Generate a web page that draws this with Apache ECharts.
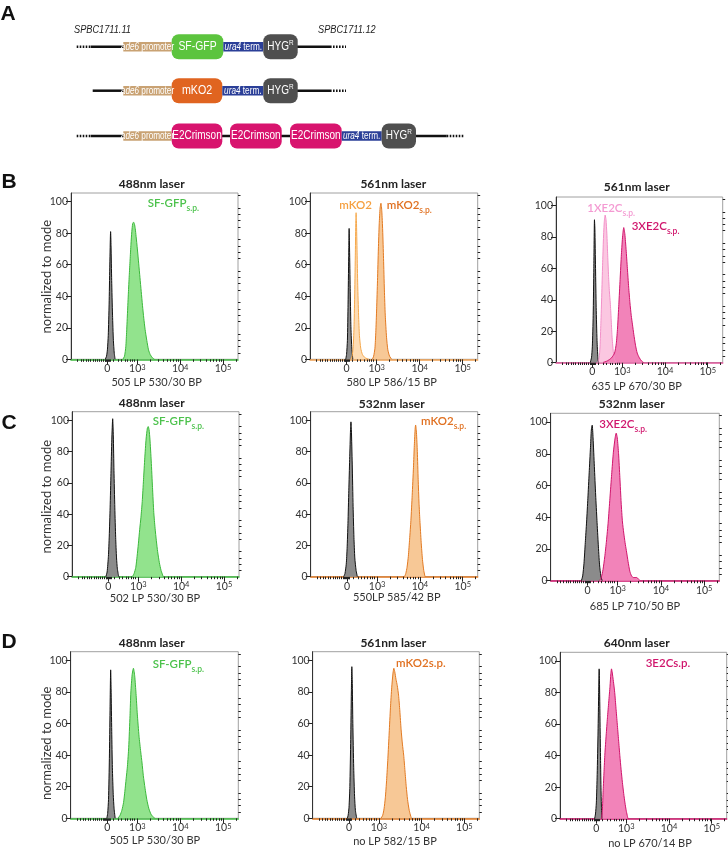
<!DOCTYPE html>
<html><head><meta charset="utf-8">
<script src="https://cdn.jsdelivr.net/npm/echarts@6/dist/echarts.min.js"></script>
<style>html,body{margin:0;padding:0;background:#fff}#c{width:728px;height:848px}</style>
</head><body><div id="c"></div>
<script>
// ---- axis ticks (x in display-decade units of the biexponential FACS axis) ----
const xTickValues = [2.3, 3, 4, 5];
const xTickLabels = ['0', '10{s|3}', '10{s|4}', '10{s|5}'];
const xMinorTicks = [1.60,1.68,1.74,1.80,1.85,1.91,1.97,2.02,2.06,2.11,2.16,2.20,2.24,2.26,2.28,2.32,2.34,2.36,
  2.44,2.55,2.63,2.71,2.77,2.83,2.88,2.93,
  3.301,3.477,3.602,3.699,3.778,3.845,3.903,3.954,
  4.301,4.477,4.602,4.699,4.778,4.845,4.903,4.954, 5.301];
const yTicks = [0, 20, 40, 60, 80, 100];
const yMinorTicks = [4,8,12,16,24,28,32,36,44,48,52,56,64,68,72,76,84,88,92,96,104];

// ---- histogram series: [display decade, % of mode] ----
const b1Control = [[2.25,0],[2.28,2],[2.30,6],[2.32,15],[2.34,35],[2.355,58],[2.37,78],[2.375,81],[2.385,72],[2.40,50],[2.42,28],[2.44,12],[2.46,4],[2.48,0]];
const b1GFP = [[2.66,0],[2.70,2],[2.73,8],[2.75,18],[2.77,30],[2.79,42],[2.81,53],[2.83,63],[2.85,73],[2.87,81],[2.89,86],[2.91,87],[2.93,86],[2.95,83],[2.97,78],[3.00,70],[3.03,61],[3.06,52],[3.09,43],[3.12,34],[3.15,26],[3.18,19],[3.22,12],[3.26,6],[3.30,3],[3.35,1],[3.40,0]];
const b2Control = [[2.28,0],[2.30,3],[2.32,12],[2.335,35],[2.35,65],[2.36,83],[2.37,70],[2.385,45],[2.40,22],[2.42,8],[2.445,0]];
const b2mKO2 = [[2.40,0],[2.43,2],[2.455,8],[2.475,22],[2.49,42],[2.505,68],[2.515,88],[2.522,93],[2.53,88],[2.545,68],[2.56,47],[2.58,28],[2.60,15],[2.63,7],[2.67,3],[2.73,1],[2.82,0]];
const b2mKO2sp = [[2.90,0],[2.93,2],[2.96,7],[2.98,17],[3.00,32],[3.02,50],[3.04,70],[3.06,86],[3.08,96],[3.10,99],[3.12,94],[3.14,82],[3.16,64],[3.18,44],[3.20,28],[3.23,14],[3.26,6],[3.30,2],[3.35,0]];
const b3Control = [[2.25,0],[2.28,3],[2.30,10],[2.32,30],[2.335,60],[2.35,91],[2.36,85],[2.375,60],[2.39,35],[2.41,14],[2.43,3],[2.445,0]];
const b3E2C1x = [[2.43,0],[2.46,3],[2.48,10],[2.50,25],[2.52,43],[2.54,62],[2.56,79],[2.58,90],[2.60,94],[2.62,91],[2.64,82],[2.66,68],[2.68,55],[2.70,45],[2.72,38],[2.74,28],[2.76,17],[2.79,7],[2.82,2],[2.86,0]];
const b3E2C3x = [[2.55,0],[2.65,1],[2.75,3],[2.82,6],[2.86,12],[2.89,22],[2.92,37],[2.95,53],[2.98,69],[3.01,81],[3.035,86],[3.06,82],[3.09,72],[3.12,60],[3.15,48],[3.18,38],[3.21,30],[3.24,24],[3.27,18],[3.31,11],[3.35,6],[3.40,3],[3.45,1],[3.50,0]];
const c1Control = [[2.24,0],[2.27,3],[2.30,13],[2.32,26],[2.34,44],[2.36,66],[2.38,88],[2.40,101],[2.415,90],[2.43,68],[2.45,44],[2.47,25],[2.49,12],[2.51,5],[2.54,0]];
const c1GFP = [[2.86,0],[2.90,2],[2.94,6],[2.97,13],[3.00,21],[3.03,30],[3.06,38],[3.09,48],[3.12,62],[3.15,76],[3.18,88],[3.21,95],[3.23,96],[3.25,94],[3.27,88],[3.30,74],[3.33,57],[3.36,41],[3.39,31],[3.42,23],[3.45,16],[3.49,9],[3.53,4],[3.58,0]];
const c2Control = [[2.22,0],[2.25,2],[2.28,8],[2.30,18],[2.32,34],[2.34,55],[2.36,75],[2.38,94],[2.39,99],[2.40,94],[2.42,72],[2.44,45],[2.46,25],[2.48,12],[2.51,4],[2.54,0]];
const c2mKO2sp = [[3.64,0],[3.67,2],[3.70,6],[3.73,13],[3.76,24],[3.79,36],[3.82,52],[3.85,70],[3.87,84],[3.89,95],[3.90,97],[3.92,92],[3.94,80],[3.96,62],[3.98,47],[4.00,36],[4.03,22],[4.06,11],[4.09,4],[4.12,0]];
const c3Control = [[2.16,0],[2.19,3],[2.22,11],[2.25,24],[2.28,37],[2.31,52],[2.34,68],[2.37,84],[2.39,95],[2.41,98],[2.43,90],[2.46,72],[2.49,54],[2.52,38],[2.55,23],[2.58,10],[2.61,3],[2.64,0]];
const c3E2C3x = [[2.58,0],[2.62,2],[2.66,7],[2.70,15],[2.74,25],[2.78,37],[2.82,52],[2.86,67],[2.90,81],[2.94,90],[2.965,93],[2.99,90],[3.02,80],[3.05,65],[3.08,49],[3.11,37],[3.14,30],[3.17,24],[3.20,19],[3.24,12],[3.28,6],[3.32,3],[3.36,2],[3.40,2],[3.44,2],[3.48,1],[3.52,0]];
const d1Control = [[2.29,0],[2.31,3],[2.33,12],[2.35,38],[2.365,68],[2.38,94],[2.39,82],[2.405,55],[2.42,32],[2.44,15],[2.46,6],[2.485,0]];
const d1GFP = [[2.55,0],[2.60,2],[2.64,5],[2.68,10],[2.71,17],[2.74,25],[2.77,33],[2.80,45],[2.83,65],[2.85,80],[2.88,91],[2.91,95],[2.94,90],[2.97,79],[3.00,66],[3.04,52],[3.08,42],[3.11,35],[3.14,27],[3.18,19],[3.22,12],[3.27,6],[3.33,2],[3.41,0]];
const d2Control = [[2.26,0],[2.28,2],[2.30,7],[2.32,20],[2.34,50],[2.355,80],[2.366,96],[2.375,88],[2.39,60],[2.41,32],[2.43,14],[2.45,5],[2.48,0]];
const d2mKO2sp = [[3.05,0],[3.09,2],[3.12,6],[3.15,13],[3.18,24],[3.21,38],[3.24,54],[3.27,70],[3.30,83],[3.33,92],[3.35,95],[3.37,93],[3.40,88],[3.43,84],[3.46,78],[3.49,68],[3.52,56],[3.55,47],[3.58,40],[3.61,30],[3.64,20],[3.67,12],[3.71,5],[3.76,0]];
const d3Control = [[2.26,0],[2.28,3],[2.30,10],[2.32,28],[2.34,55],[2.355,80],[2.366,95],[2.375,85],[2.39,55],[2.40,35],[2.41,18],[2.42,7],[2.43,0]];
const d3E2C = [[2.42,0],[2.44,5],[2.46,18],[2.48,30],[2.50,41],[2.53,53],[2.56,64],[2.59,74],[2.62,84],[2.64,92],[2.655,95],[2.67,93],[2.70,87],[2.73,80],[2.76,70],[2.79,60],[2.82,50],[2.85,40],[2.88,31],[2.91,23],[2.94,16],[2.97,10],[3.00,5],[3.04,0]];

// ---- text ----
const laserTitles = ['488nm laser','561nm laser','561nm laser','488nm laser','532nm laser','532nm laser','488nm laser','561nm laser','640nm laser'];
const filterLabels = ['505 LP 530/30 BP','580 LP 586/15 BP','635 LP 670/30 BP','502 LP 530/30 BP','550LP 585/42 BP','685 LP 710/50 BP','505 LP 530/30 BP','no LP 582/15 BP','no LP 670/14 BP'];
const yAxisTitle = 'normalized to mode';

// ---- styles / layout ----
const FONT = 'Lato, "Noto Sans", sans-serif';
const STY = {
  ctrl:{fill:'#8b8b8b', line:'#111111'},
  gfp:{fill:'#92e38d', line:'#3cb83c'},
  mko:{fill:'#f7c896', line:'#e27a22'},
  mkoL:{fill:'#fddcb4', line:'#f5a84c'},
  e3:{fill:'#f283b9', line:'#d0156c'},
  e1:{fill:'#fbc7e1', line:'#f290c8'}
};
const panels = [
  {g:[71,193,167,166.3], base:'#3cb83c', s:[[b1Control,'ctrl'],[b1GFP,'gfp']], t:[151.7,184.3], xl:[156.7,382.7]},
  {g:[310,193,167.7,166.3], base:'#f0a050', s:[[b2Control,'ctrl'],[b2mKO2,'mkoL'],[b2mKO2sp,'mko']], t:[393.3,184.3], xl:[391.7,382.7]},
  {g:[556,197,166.7,165.5], base:'#e0559a', s:[[b3Control,'ctrl'],[b3E2C1x,'e1'],[b3E2C3x,'e3']], t:[636.7,187.3], xl:[636.7,386.7]},
  {g:[72,411.7,167,165], base:'#3cb83c', s:[[c1Control,'ctrl'],[c1GFP,'gfp']], t:[151.7,403.3], xl:[155,598.5]},
  {g:[310.7,411.7,167,165], base:'#e27a22', s:[[c2Control,'ctrl'],[c2mKO2sp,'mko']], t:[391.7,404.3], xl:[396.7,597]},
  {g:[550.7,413.3,168.6,167.4], base:'#d0156c', s:[[c3Control,'ctrl'],[c3E2C3x,'e3']], t:[631.7,404.3], xl:[635,606.7]},
  {g:[70.7,651.7,167.6,166.6], base:'#3cb83c', s:[[d1Control,'ctrl'],[d1GFP,'gfp']], t:[151.7,643.3], xl:[155,840]},
  {g:[312.7,651.7,166.6,166.6], base:'#e27a22', s:[[d2Control,'ctrl'],[d2mKO2sp,'mko']], t:[393.3,643.3], xl:[395,841.7]},
  {g:[560,652.3,166.7,166.4], base:'#d0156c', s:[[d3Control,'ctrl'],[d3E2C,'e3']], t:[636.7,643.3], xl:[650,843.3]}
];

const grid=[], xAxis=[], yAxis=[], series=[], graphic=[];
panels.forEach((p,i)=>{
  grid.push({left:p.g[0], top:p.g[1], width:p.g[2], height:p.g[3], show:true, borderColor:'#a0a0a0', borderWidth:1, backgroundColor:'rgba(0,0,0,0)'});
  xAxis.push({type:'value', gridIndex:i, min:1.45, max:5.35, position:'bottom',
    axisLine:{show:true, onZero:false, lineStyle:{color:p.base, width:1.5}},
    axisTick:{show:true, customValues:xTickValues, length:5, lineStyle:{color:'#222'}},
    axisLabel:{show:true, customValues:xTickValues, margin:4, fontSize:10.5, color:'#333', fontFamily:FONT,
      formatter:(v)=>{const k=xTickValues.indexOf(v); return k<0?'':xTickLabels[k];},
      rich:{s:{fontSize:7.5, verticalAlign:'top', lineHeight:8, color:'#333', fontFamily:FONT}}},
    splitLine:{show:false}});
  xAxis.push({type:'value', gridIndex:i, min:1.45, max:5.35, position:'bottom',
    axisLine:{show:false}, axisTick:{show:true, customValues:xMinorTicks, length:2.5, lineStyle:{color:'#222'}},
    axisLabel:{show:false}, splitLine:{show:false}});
  yAxis.push({type:'value', gridIndex:i, min:0, max:105.5,
    axisLine:{show:true, onZero:false, lineStyle:{color:'#333', width:1}},
    axisTick:{show:true, customValues:yTicks, length:5, lineStyle:{color:'#222'}},
    axisLabel:{show:true, customValues:yTicks, margin:3, fontSize:10.5, color:'#333', fontFamily:FONT},
    splitLine:{show:false}});
  yAxis.push({type:'value', gridIndex:i, min:0, max:105.5,
    axisLine:{show:false}, axisTick:{show:true, customValues:yMinorTicks, length:2.5, lineStyle:{color:'#222'}},
    axisLabel:{show:false}, splitLine:{show:false}});
  p.s.forEach(([data,key])=>{
    series.push({type:'line', xAxisIndex:2*i, yAxisIndex:2*i, data:data, symbol:'none', smooth:0.2,
      lineStyle:{color:STY[key].line, width:1}, areaStyle:{color:STY[key].fill, opacity:1}, silent:true, animation:false});
  });
  graphic.push({type:'text', x:p.t[0], y:p.t[1], z:10, style:{text:laserTitles[i], fill:'#222', fontSize:12, fontWeight:'bold', fontFamily:FONT, align:'center', verticalAlign:'middle'}});
  graphic.push({type:'text', x:p.xl[0], y:p.xl[1], z:10, style:{text:filterLabels[i], fill:'#333', fontSize:11, fontFamily:FONT, align:'center', verticalAlign:'middle'}});
});

// y axis titles (first column)
[[46.7,276.7],[47,496.7],[47,743.3]].forEach(([x,y])=>{
  graphic.push({type:'text', x:x, y:y, rotation:Math.PI/2, z:10, style:{text:yAxisTitle, fill:'#333', fontSize:13, fontFamily:FONT, align:'center', verticalAlign:'middle'}});
});
// panel letters
[['A',8,14],['B',9,182],['C',9,423],['D',9,642]].forEach(([t,x,y])=>{
  graphic.push({type:'text', x:x, y:y, z:10, style:{text:t, fill:'#111', fontSize:21, fontWeight:'bold', fontFamily:'"Liberation Sans", Arial, sans-serif', align:'center', verticalAlign:'middle'}});
});
// in-plot labels with subscripts
function lab(x,y,main,sub,color){
  graphic.push({type:'text', x:x, y:y, z:20, style:{
    text:'{m|'+main+'}'+(sub?'{s|'+sub+'}':''), fill:color, align:'left', verticalAlign:'middle',
    rich:{m:{fontSize:11.5, fontFamily:FONT, fontWeight:600, fill:color, lineHeight:14, verticalAlign:'middle'},
          s:{fontSize:8.5, fontFamily:FONT, fontWeight:600, fill:color, lineHeight:20, verticalAlign:'bottom'}}}});
}
lab(147.7,203,'SF-GFP','s.p.','#4cc24c');
lab(339.3,205,'mKO2','','#f5a040');
lab(386.7,205,'mKO2','s.p.','#e07020');
lab(587.3,208,'1XE2C','s.p.','#f49ad2');
lab(631.7,226,'3XE2C','s.p.','#d0156c');
lab(152.7,421,'SF-GFP','s.p.','#4cc24c');
lab(421,421,'mKO2','s.p.','#e07020');
lab(599.3,424,'3XE2C','s.p.','#d0156c');
lab(152.7,664,'SF-GFP','s.p.','#4cc24c');
lab(396,663.3,'mKO2s.p.','','#e07020');
lab(645.7,663.3,'3E2Cs.p.','','#d0156c');

// ---- panel A: construct diagram ----
const DFONT = '"Liberation Sans", Arial, sans-serif';
function hline(x1,x2,y,dotted){
  graphic.push({type:'line', shape:{x1:x1,y1:y,x2:x2,y2:y}, z:5, style:{stroke:'#111', lineWidth:2.5, lineDash:dotted?[1.6,1.4]:null}});
}
function smallBox(x1,x2,y,fill,rich){
  graphic.push({type:'rect', shape:{x:x1,y:y-4.8,width:x2-x1,height:9.6}, z:6, style:{fill:fill}});
  graphic.push({type:'text', x:(x1+x2)/2, y:y+0.3, scaleX:0.82, z:7, style:{text:rich, fill:'#fff', align:'center', verticalAlign:'middle',
    rich:{i:{fontSize:10, fontStyle:'italic', fontFamily:DFONT, fill:'#fff'}, n:{fontSize:10, fontFamily:DFONT, fill:'#fff'}}}});
}
function bigBox(x1,x2,y,fill,txt,size,sx){
  graphic.push({type:'rect', shape:{x:x1,y:y-12.5,width:x2-x1,height:25,r:7}, z:6, style:{fill:fill}});
  graphic.push({type:'text', x:(x1+x2)/2, y:y, scaleX:sx, z:7, style:{text:txt, fill:'#fff', align:'center', verticalAlign:'middle',
    rich:{m:{fontSize:size, fontFamily:DFONT, fill:'#fff', lineHeight:16, verticalAlign:'middle'}, r:{fontSize:8, fontFamily:DFONT, fill:'#fff', lineHeight:16, verticalAlign:'top'}}}});
}
const PROM='#c9a273', URA='#2b3f98', HYG='#4f4f4f', GFP='#5cc43e', MKO='#e06420', E2C='#d8146e';
graphic.push({type:'text', x:74, y:29.3, scaleX:0.8, z:7, style:{text:'SPBC1711.11', fill:'#222', fontSize:11.5, fontStyle:'italic', fontFamily:DFONT, align:'left', verticalAlign:'middle'}});
graphic.push({type:'text', x:318, y:29.3, scaleX:0.8, z:7, style:{text:'SPBC1711.12', fill:'#222', fontSize:11.5, fontStyle:'italic', fontFamily:DFONT, align:'left', verticalAlign:'middle'}});
// row 1
let y=46.7;
hline(76.7,90.7,y,true); hline(90.7,124,y); hline(297,330,y); hline(330,346,y,true);
smallBox(123.3,171.7,y,PROM,'{i|ade6}{n| promoter}');
bigBox(171.7,223.3,y,GFP,'{m|SF-GFP}',13,0.8);
smallBox(223.3,263.3,y,URA,'{i|ura4}{n| term.}');
bigBox(263.3,297.7,y,HYG,'{m|HYG}{r|R}',12.5,0.8);
// row 2
y=90.7;
hline(92.7,124,y); hline(297,330,y); hline(330,346,y,true);
smallBox(123.3,171.7,y,PROM,'{i|ade6}{n| promoter}');
bigBox(171.7,222.3,y,MKO,'{m|mKO2}',13,0.82);
smallBox(222.3,263.3,y,URA,'{i|ura4}{n| term.}');
bigBox(263.3,297.7,y,HYG,'{m|HYG}{r|R}',12.5,0.8);
// row 3
y=136;
hline(76.7,90.7,y,true); hline(90.7,124,y); hline(222,231,y); hline(281,291,y); hline(415,446.7,y); hline(446.7,463.3,y,true);
smallBox(123.3,171.7,y,PROM,'{i|ade6}{n| promoter}');
bigBox(171.7,222.3,y,E2C,'{m|E2Crimson}',12.5,0.8);
bigBox(230,281.7,y,E2C,'{m|E2Crimson}',12.5,0.8);
bigBox(290,341.7,y,E2C,'{m|E2Crimson}',12.5,0.8);
smallBox(341.7,381.7,y,URA,'{i|ura4}{n| term.}');
bigBox(381.7,416,y,HYG,'{m|HYG}{r|R}',12.5,0.8);

const chart = echarts.init(document.getElementById('c'), null, {renderer:'canvas'});
chart.setOption({animation:false, backgroundColor:'#fff', grid, xAxis, yAxis, series, graphic});
</script></body></html>
